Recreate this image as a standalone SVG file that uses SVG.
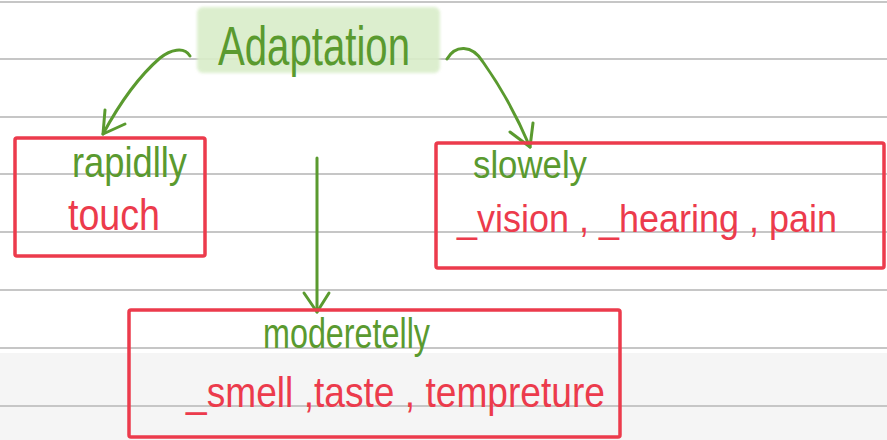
<svg xmlns="http://www.w3.org/2000/svg" width="887" height="440" viewBox="0 0 887 440">
  <style>
    .rule { stroke: #c6c6c6; stroke-width: 2; }
    .box { fill: none; stroke: #ec3b4c; stroke-width: 3.5; }
    .ink { font-family: "Liberation Sans", "DejaVu Sans", sans-serif; }
    .green { fill: #5a9a2f; }
    .red { fill: #ec3b4c; }
    .arrow { fill: none; stroke: #5a9a2f; stroke-width: 3; stroke-linecap: round; stroke-linejoin: round; }
  </style>
  <defs>
    <filter id="soft" x="-10%" y="-20%" width="120%" height="140%">
      <feGaussianBlur stdDeviation="1.5"/>
    </filter>
  </defs>

  <!-- paper -->
  <rect x="0" y="0" width="887" height="440" fill="#ffffff"/>
  <rect x="0" y="353" width="887" height="87" fill="#f5f5f5"/>
  <g id="rules">
    <line class="rule" x1="0" y1="2" x2="887" y2="2"/>
    <line class="rule" x1="0" y1="59" x2="887" y2="59"/>
    <line class="rule" x1="0" y1="117" x2="887" y2="117"/>
    <line class="rule" x1="0" y1="174" x2="887" y2="174"/>
    <line class="rule" x1="0" y1="232" x2="887" y2="232"/>
    <line class="rule" x1="0" y1="290" x2="887" y2="290"/>
    <line class="rule" x1="0" y1="348" x2="887" y2="348"/>
    <line class="rule" x1="0" y1="406" x2="887" y2="406"/>
  </g>

  <!-- root -->
  <g id="adaptation">
    <rect x="197" y="7" width="243" height="66" rx="6" fill="#d9edc9" opacity="0.9" filter="url(#soft)"/>
    <text class="ink green" x="218" y="65" font-size="56" textLength="192" lengthAdjust="spacingAndGlyphs">Adaptation</text>
  </g>

  <!-- branches -->
  <g id="connectors">
    <path class="arrow" d="M190 56 C184 46 170 50 160 58 Q130 84 103 134"/>
    <path class="arrow" d="M105 110 L103 134 L125 124"/>
    <path class="arrow" d="M447 59 C455 45 472 44 483 62 Q510 100 530 147"/>
    <path class="arrow" d="M510 132 L530 147 L533 123"/>
    <path class="arrow" d="M317 158 L317 312"/>
    <path class="arrow" d="M304 293 L317 312 L329 293"/>
  </g>

  <g id="rapidly">
    <rect class="box" x="15" y="138" width="190" height="118" rx="2"/>
    <text class="ink green" x="72" y="177" font-size="42" textLength="115" lengthAdjust="spacingAndGlyphs">rapidlly</text>
    <text class="ink red" x="68" y="230" font-size="44" textLength="92" lengthAdjust="spacingAndGlyphs">touch</text>
  </g>

  <g id="slowly">
    <rect class="box" x="436" y="143" width="448" height="125" rx="2"/>
    <text class="ink green" x="473" y="178" font-size="39" textLength="114" lengthAdjust="spacingAndGlyphs">slowely</text>
    <text class="ink red" x="457" y="232" font-size="38" textLength="380" lengthAdjust="spacingAndGlyphs">_vision , _hearing , pain</text>
  </g>

  <g id="moderately">
    <rect class="box" x="129" y="310" width="491" height="127" rx="2"/>
    <text class="ink green" x="263" y="348" font-size="42" textLength="167" lengthAdjust="spacingAndGlyphs">moderetelly</text>
    <text class="ink red" x="186" y="407" font-size="42" textLength="419" lengthAdjust="spacingAndGlyphs">_smell ,taste , tempreture</text>
  </g>
</svg>
